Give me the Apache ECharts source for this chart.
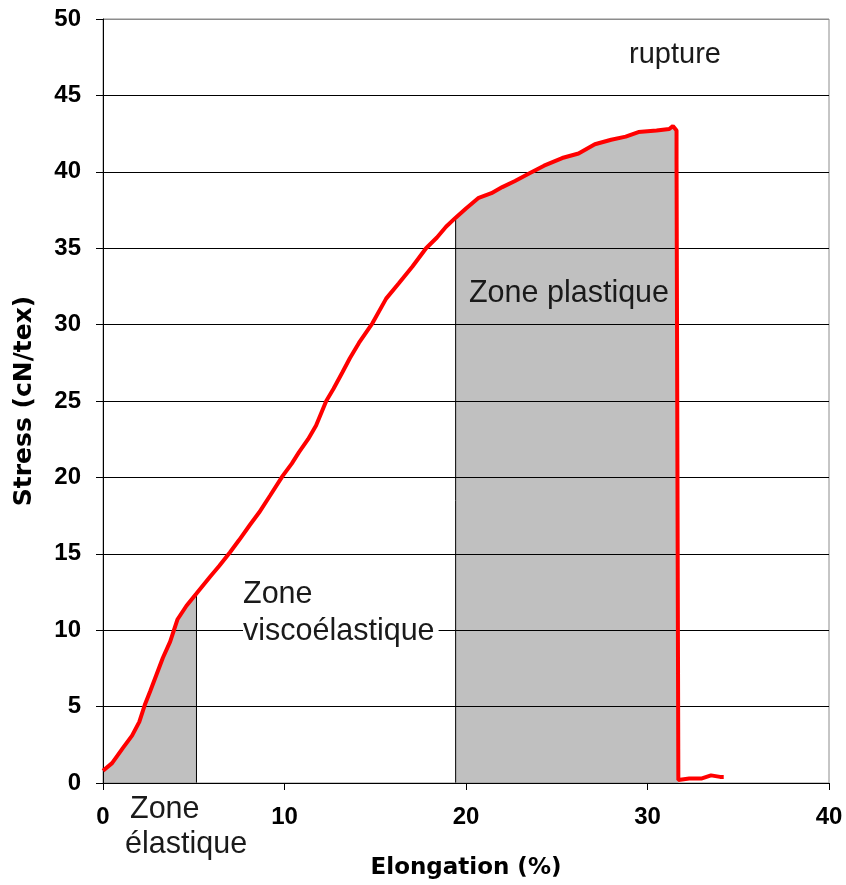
<!DOCTYPE html>
<html>
<head>
<meta charset="utf-8">
<script src="https://cdn.jsdelivr.net/npm/echarts@6/dist/echarts.min.js"></script>
<style>
  html, body { margin: 0; padding: 0; background: #fff; }
  #chart { width: 846px; height: 885px; }
</style>
</head>
<body>
<div id="chart"></div>
<script>
// stress-strain curve: [elongation %, stress cN/tex]
var curve = [
  [0, 0.8], [0.5, 1.3], [1.1, 2.3], [1.6, 3.1], [2.0, 4.0], [2.3, 5.1], [2.6, 6.0],
  [2.95, 7.1], [3.3, 8.2], [3.7, 9.25], [4.1, 10.7], [4.6, 11.6], [5.15, 12.4],
  [5.9, 13.5], [6.4, 14.2], [7.0, 15.1], [7.5, 15.9], [8.1, 16.9], [8.6, 17.7],
  [9.2, 18.8], [9.9, 20.1], [10.4, 20.9], [10.8, 21.65], [11.3, 22.5], [11.74, 23.4],
  [12.3, 25.0], [12.7, 25.8], [13.2, 26.9], [13.6, 27.8], [14.1, 28.8], [14.85, 30.1],
  [15.6, 31.7], [16.3, 32.7], [17.05, 33.8], [17.8, 35.0], [18.4, 35.7], [18.9, 36.4],
  [19.43, 37.0], [20.0, 37.6], [20.7, 38.3], [21.4, 38.6], [22.0, 39.0], [22.7, 39.4],
  [23.5, 39.9], [24.3, 40.4], [25.3, 40.9], [26.2, 41.2], [27.1, 41.8], [28.0, 42.1],
  [28.8, 42.3], [29.5, 42.6], [30.5, 42.7], [31.2, 42.8], [31.4, 43.0], [31.6, 42.7],
  [31.6, 40.7], [31.7, 0.2], [32.3, 0.3], [33.0, 0.3], [33.5, 0.5], [34.0, 0.4], [34.2, 0.4]
];
// shaded zones (elongation limits)
var elasticZone = [0, 5.15];
var plasticZone = [19.43, 31.7];
var xTicks = [0, 10, 20, 30, 40];
var yTicks = [0, 5, 10, 15, 20, 25, 30, 35, 40, 45, 50];

function zoneData(lo, hi) {
  var pts = curve.filter(function (p) { return p[0] >= lo && p[0] <= hi; });
  if (lo > 0) pts.unshift([lo, 0]);
  if (hi === elasticZone[1]) pts.push([hi, 0]);
  return pts;
}

var tickFont = { fontFamily: 'Liberation Sans', fontWeight: 'bold', fontSize: 24, color: '#000' };
var noteFont = '30.5px "Liberation Sans"';
// grid lines black, the top one (at max) grey like the frame
var gridColors = yTicks.map(function (v, i) { return i === yTicks.length - 1 ? '#8c8c8c' : '#000'; });

var option = {
  animation: false,
  backgroundColor: '#fff',
  grid: {
    left: 103, top: 19, right: 17, bottom: 100,
    show: true, borderColor: '#8c8c8c', borderWidth: 1
  },
  xAxis: {
    type: 'value', min: xTicks[0], max: xTicks[xTicks.length - 1], interval: 10,
    name: 'Elongation (%)', nameLocation: 'middle', nameGap: 74,
    nameTextStyle: { fontFamily: 'DejaVu Sans', fontWeight: 'bold', fontSize: 23, color: '#000' },
    axisLine: { lineStyle: { color: '#000', width: 1 } },
    axisTick: { length: 7, lineStyle: { color: '#000' } },
    axisLabel: Object.assign({ margin: 22 }, tickFont),
    splitLine: { show: false }
  },
  yAxis: {
    type: 'value', min: yTicks[0], max: yTicks[yTicks.length - 1], interval: 5,
    name: 'Stress (cN/tex)', nameLocation: 'middle', nameGap: 66,
    nameTextStyle: { fontFamily: 'DejaVu Sans', fontWeight: 'bold', fontSize: 25, color: '#000' },
    axisLine: { lineStyle: { color: '#000', width: 1 } },
    axisTick: { length: 7, lineStyle: { color: '#000' } },
    axisLabel: Object.assign({ margin: 22 }, tickFont),
    splitLine: { lineStyle: { color: gridColors, width: 1 } }
  },
  series: [
    {
      type: 'line', data: zoneData(elasticZone[0], elasticZone[1]), z: -1,
      symbol: 'none', lineStyle: { color: '#000', width: 1 },
      areaStyle: { color: '#c0c0c0', opacity: 1 }
    },
    {
      type: 'line', data: zoneData(plasticZone[0], plasticZone[1]), z: -1,
      symbol: 'none', lineStyle: { color: '#000', width: 1 },
      areaStyle: { color: '#c0c0c0', opacity: 1 }
    },
    {
      type: 'line', data: curve, symbol: 'none',
      lineStyle: { color: '#ff0000', width: 4 }
    }
  ],
  graphic: {
    elements: [
      { type: 'text', x: 675, y: 55, z: 50, style: { text: 'rupture', font: '29px "Liberation Sans"', fill: '#1a1a1a', align: 'center', verticalAlign: 'middle' } },
      { type: 'text', x: 569, y: 294, z: 50, style: { text: 'Zone plastique', font: noteFont, fill: '#1a1a1a', align: 'center', verticalAlign: 'middle' } },
      { type: 'text', x: 243, y: 595, z: 50, style: { text: 'Zone', font: noteFont, fill: '#1a1a1a', align: 'left', verticalAlign: 'middle' } },
      { type: 'text', x: 243, y: 632, z: 50, style: { text: 'viscoélastique', font: noteFont, fill: '#1a1a1a', align: 'left', verticalAlign: 'middle', backgroundColor: '#fff', padding: [0, 4, 0, 0] } },
      { type: 'text', x: 130, y: 810, z: 50, style: { text: 'Zone', font: noteFont, fill: '#1a1a1a', align: 'left', verticalAlign: 'middle' } },
      { type: 'text', x: 125, y: 845, z: 50, style: { text: 'élastique', font: noteFont, fill: '#1a1a1a', align: 'left', verticalAlign: 'middle' } }
    ]
  }
};

var chart = echarts.init(document.getElementById('chart'));
chart.setOption(option);
</script>
</body>
</html>
